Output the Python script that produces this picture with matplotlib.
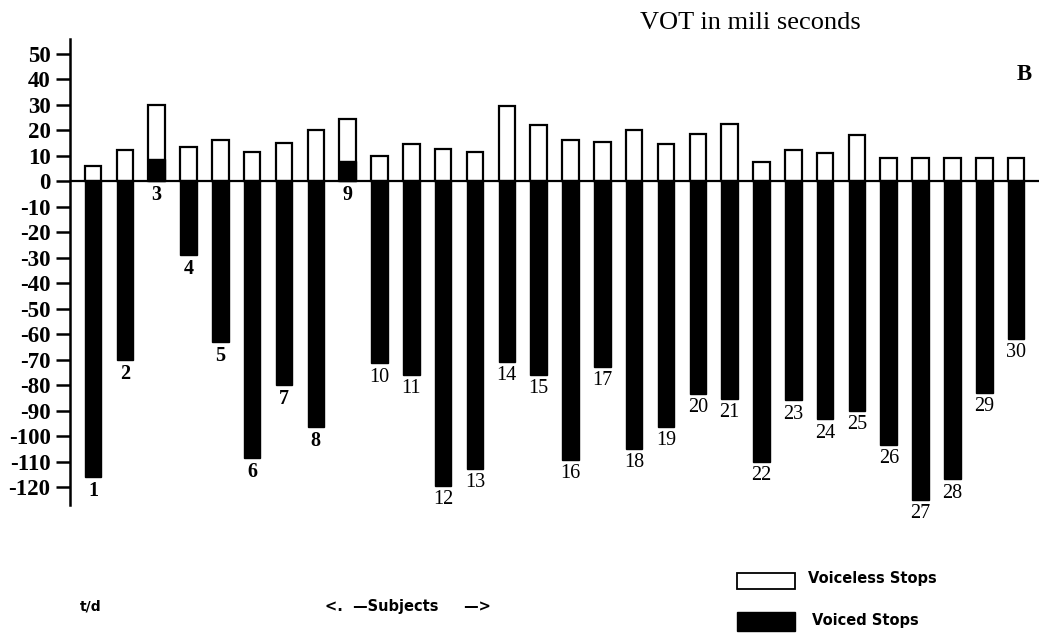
import matplotlib
matplotlib.use("Agg")
import matplotlib.pyplot as plt
from matplotlib.patches import Rectangle
import numpy as np

# VOT (ms) per subject
subjects = list(range(1, 31))
voiceless = [6, 12, 30, 13.5, 16, 11.5, 15, 20, 24.5, 10,
             14.5, 12.5, 11.5, 29.5, 22, 16, 15.5, 20, 14.5, 18.5,
             22.5, 7.5, 12, 11, 18, 9, 9, 9, 9, 9]
voiced = [-116, -70, 8.5, -29, -63, -108.5, -80, -96.5, 8, -71.5,
          -76, -119.5, -113, -71, -76, -109.5, -73, -105, -96.5, -83.5,
          -85.5, -110, -86, -93.5, -90, -103.5, -125, -117, -83, -62]
yticks = list(range(50, -121, -10))

fig = plt.figure(figsize=[10.39, 6.38], dpi=100)
ax = fig.add_axes([0.0674, 0.2086, 1 - 0.0674, 0.9389 - 0.2086])

x = np.array(subjects)
ax.bar(x, voiceless, width=0.52, color="white", edgecolor="black", linewidth=1.6, zorder=2)
ax.bar(x, voiced, width=0.52, color="black", edgecolor="black", linewidth=1.0, zorder=3)
ax.axhline(0, color="black", linewidth=1.6, zorder=4)

# subject numbers under each bar (or under zero line for positive voiced)
for xi, v in zip(x, voiced):
    ybot = min(v, 0)
    ax.annotate(str(xi), (xi, ybot), xytext=(0, -3), textcoords="offset points",
                ha="center", va="top", fontsize=14.5, family="Liberation Serif",
                fontweight="bold" if xi < 10 else "normal")

ax.set_xlim(0.277, 30.72)
ax.set_ylim(-127, 55.7)
ax.set_yticks(yticks)
ax.set_yticklabels([str(t) for t in yticks], family="Liberation Serif",
                   fontweight="bold", fontsize=16.5)
ax.tick_params(axis="y", direction="out", length=10, width=1.8, pad=4)
ax.set_xticks([])
for s in ["top", "right", "bottom"]:
    ax.spines[s].set_visible(False)
ax.spines["left"].set_linewidth(1.8)

fig.text(640 / 1039, 1 - 29 / 638, "VOT in mili seconds", family="Liberation Serif",
         fontsize=19, va="baseline", ha="left")
fig.text(1032 / 1039, 1 - 80 / 638, "B", family="Liberation Serif", fontweight="bold",
         fontsize=16.5, va="baseline", ha="right")

narrow = ["Liberation Sans Narrow", "DejaVu Sans"]
fig.text(80 / 1039, 1 - 606 / 638, "t/d", family=narrow, fontweight="bold",
         fontsize=10, va="center")
fig.text(325 / 1039, 1 - 606 / 638, "<.  \u2014Subjects     \u2014>", family=narrow,
         fontweight="bold", fontsize=10.5, va="center")

fig.patches.append(Rectangle((737 / 1039, 1 - 589 / 638), 58 / 1039, 16 / 638,
                             transform=fig.transFigure, facecolor="white",
                             edgecolor="black", linewidth=1.3))
fig.patches.append(Rectangle((737 / 1039, 1 - 631 / 638), 58 / 1039, 19 / 638,
                             transform=fig.transFigure, facecolor="black",
                             edgecolor="black", linewidth=1.0))
fig.text(808 / 1039, 1 - 579 / 638, "Voiceless Stops", family=narrow, fontweight="bold",
         fontsize=10.5, va="center")
fig.text(812 / 1039, 1 - 620 / 638, "Voiced Stops", family=narrow, fontweight="bold",
         fontsize=10.5, va="center")

plt.savefig("out.png", dpi=100)
